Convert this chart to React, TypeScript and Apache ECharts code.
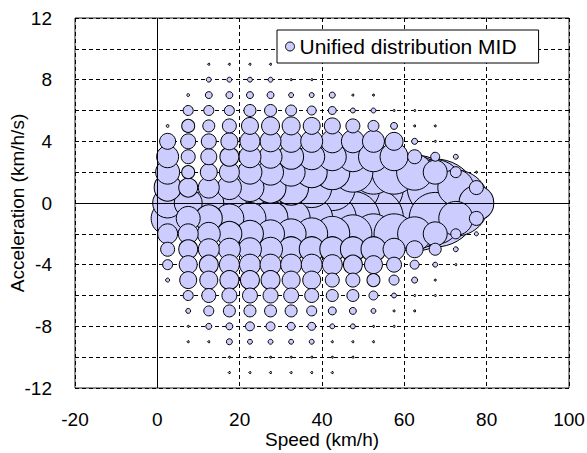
import React, { useEffect, useRef } from "react";
import * as echarts from "echarts";

// Speed bin centres (km/h), 5 km/h wide bins
const speedBins = [2.5, 7.5, 12.5, 17.5, 22.5, 27.5, 32.5, 37.5, 42.5, 47.5, 52.5, 57.5, 62.5, 67.5, 72.5, 77.5];

// Acceleration classes (km/h/s), top to bottom
const accelRows = [9, 8, 7, 6, 5, 4, 3, 2, 1, 0, -1, -2, -3, -4, -5, -6, -7, -8, -9, -10, -11];

// Frequency per acceleration class, one list per speed bin
const freq0to5 = [0, 0, 0, 0, 2, 64, 121, 144, 182, 225, 272, 100, 49, 25, 4, 0, 0, 0, 0, 0, 0];
const freq5to10 = [0, 0, 2, 25, 42, 56, 49, 42, 90, 196, 144, 100, 90, 81, 72, 25, 6, 1, 1, 0, 0];
const freq10to15 = [1, 6, 12, 25, 36, 56, 64, 72, 110, 225, 182, 132, 110, 90, 81, 49, 25, 9, 1, 0, 0];
const freq15to20 = [1, 6, 12, 25, 49, 72, 90, 100, 144, 289, 210, 156, 121, 100, 90, 56, 36, 12, 9, 1, 1];
const freq20to25 = [1, 6, 12, 36, 72, 100, 121, 144, 196, 400, 256, 182, 132, 110, 90, 56, 36, 20, 6, 1, 1];
const freq25to30 = [1, 6, 12, 36, 81, 110, 132, 169, 240, 506, 306, 196, 144, 110, 90, 56, 36, 20, 6, 1, 1];
const freq30to35 = [0, 1, 6, 30, 81, 121, 156, 196, 306, 676, 361, 225, 156, 110, 81, 56, 36, 16, 6, 1, 1];
const freq35to40 = [0, 1, 6, 20, 72, 121, 169, 240, 400, 900, 441, 256, 156, 110, 81, 49, 25, 16, 6, 1, 1];
const freq40to45 = [0, 0, 9, 16, 64, 132, 196, 306, 529, 1156, 576, 306, 156, 100, 49, 36, 16, 6, 1, 1, 1];
const freq45to50 = [0, 0, 1, 6, 49, 132, 225, 400, 729, 1444, 729, 361, 156, 90, 49, 36, 12, 6, 1, 1, 0];
const freq50to55 = [0, 0, 1, 6, 30, 121, 225, 484, 900, 1764, 900, 400, 156, 81, 42, 20, 6, 1, 1, 0, 0];
const freq55to60 = [0, 0, 0, 1, 12, 81, 196, 484, 1024, 2116, 1024, 400, 121, 56, 25, 6, 1, 1, 0, 0, 0];
const freq60to65 = [0, 0, 0, 1, 1, 9, 49, 324, 1024, 2304, 961, 289, 72, 20, 9, 1, 1, 0, 0, 0, 0];
const freq65to70 = [0, 0, 0, 0, 1, 1, 20, 144, 784, 1936, 676, 144, 36, 6, 1, 1, 0, 0, 0, 0, 0];
const freq70to75 = [0, 0, 0, 0, 0, 0, 6, 30, 324, 1089, 289, 25, 6, 1, 0, 0, 0, 0, 0, 0, 0];
const freq75to80 = [0, 0, 0, 0, 0, 0, 0, 1, 49, 306, 49, 4, 0, 0, 0, 0, 0, 0, 0, 0, 0];

const freqBySpeed = [
  freq0to5, freq5to10, freq10to15, freq15to20, freq20to25, freq25to30, freq30to35, freq35to40,
  freq40to45, freq45to50, freq50to55, freq55to60, freq60to65, freq65to70, freq70to75, freq75to80,
];

// Axis tick values
const speedTicks = [-20, 0, 20, 40, 60, 80, 100];
const accelTicks = [-12, -8, -4, 0, 4, 8, 12];

const seriesName = "Unified distribution MID";
const FONT = "'Liberation Sans', Arial, sans-serif";

export default function App() {
  const ref = useRef<HTMLDivElement>(null);

  useEffect(() => {
    if (!ref.current) return;
    const chart = echarts.init(ref.current, undefined, { renderer: "svg" });

    const points: [number, number, number][] = [];
    speedBins.forEach((s, i) => {
      accelRows.forEach((a, j) => {
        const v = freqBySpeed[i][j];
        if (v > 0) points.push([s, a, v]);
      });
    });
    // larger bubbles first so the smaller ones stay visible on top
    points.sort((p, q) => q[2] - p[2]);

    const labelStyle = { color: "#000", fontSize: 19, fontFamily: FONT };

    chart.setOption({
      animation: false,
      backgroundColor: "#fff",
      grid: {
        left: 75,
        top: 18,
        width: 494,
        height: 370,
        containLabel: false,
        outerBoundsMode: "none",
        show: true,
        borderColor: "#222",
        borderWidth: 1,
        backgroundColor: "transparent",
      },
      legend: {
        data: [{ name: seriesName, icon: "circle" }],
        left: 277,
        top: 30,
        orient: "horizontal",
        backgroundColor: "#fff",
        borderColor: "#000",
        borderWidth: 1,
        borderRadius: 0,
        padding: [6, 22, 6, 8],
        itemWidth: 9,
        itemHeight: 9,
        itemGap: 5,
        selectedMode: false,
        itemStyle: { color: "#ccccff", borderColor: "#000", borderWidth: 1 },
        textStyle: { ...labelStyle, fontSize: 21 },
      },
      xAxis: {
        type: "value",
        min: speedTicks[0],
        max: speedTicks[speedTicks.length - 1],
        interval: 20,
        name: "Speed (km/h)",
        nameLocation: "middle",
        nameGap: 42,
        nameMoveOverlap: false,
        nameTextStyle: { ...labelStyle },
        axisLine: { show: false },
        axisTick: { show: false },
        axisLabel: { ...labelStyle, margin: 22 },
        splitLine: { show: true, lineStyle: { color: "#000", width: 1, type: [4, 3] } },
      },
      yAxis: {
        type: "value",
        min: accelTicks[0],
        max: accelTicks[accelTicks.length - 1],
        interval: 2,
        name: "Acceleration (km/h/s)",
        nameLocation: "middle",
        nameGap: 48,
        nameMoveOverlap: false,
        nameTextStyle: { ...labelStyle },
        axisLine: { show: false },
        axisTick: { show: false },
        axisLabel: {
          ...labelStyle,
          margin: 23,
          formatter: (v: number) => (accelTicks.includes(v) ? String(v) : ""),
        },
        splitLine: { show: true, interval: 0, lineStyle: { color: "#000", width: 1, type: [4, 3] } },
      },
      series: [
        {
          name: "zero-lines",
          type: "scatter",
          data: [],
          z: 1,
          silent: true,
          markLine: {
            silent: true,
            symbol: "none",
            label: { show: false },
            lineStyle: { color: "#000", width: 1, type: "solid" },
            data: [{ xAxis: 0 }, { yAxis: 0 }],
          },
        },
        {
          name: seriesName,
          type: "scatter",
          z: 2,
          data: points,
          symbol: "circle",
          symbolSize: (val: number[]) => 2 * Math.sqrt(val[2]),
          itemStyle: { color: "#ccccff", borderColor: "#000", borderWidth: 1, opacity: 1 },
          emphasis: { disabled: true },
        },
      ],
    });

    return () => chart.dispose();
  }, []);

  return (
    <div
      ref={ref}
      style={{ position: "fixed", left: 0, top: 0, width: 587, height: 453, background: "#fff" }}
    />
  );
}
